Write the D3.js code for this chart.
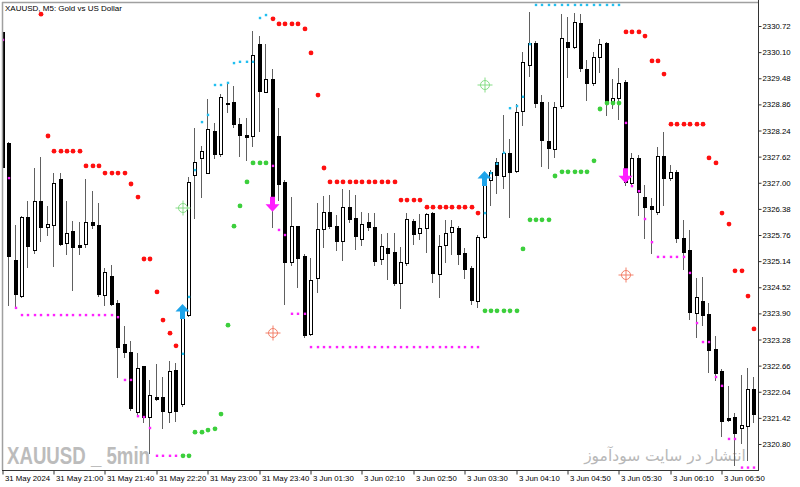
<!DOCTYPE html>
<html><head><meta charset="utf-8">
<script src="https://cdn.jsdelivr.net/npm/d3@7"></script>
<style>body{margin:0;background:#fff}svg{display:block}</style>
</head><body>
<svg id="c" width="800" height="487"></svg>
<script>
// ---- DATA ----
const open = [
2330.58,2327.94,2325.17,2324.31,2326.19,2325.40,2326.57,2325.95,2326.00,2327.09,
2325.57,2325.85,2325.52,2325.55,2326.07,2326.00,2324.34,2324.79,2324.15,2323.17,
2322.98,2321.56,2322.65,2321.44,2321.92,2321.92,2321.56,2322.56,2321.75,2323.86,
2327.18,2327.59,2327.23,2328.23,2327.68,2328.89,2328.92,2328.39,2328.13,2328.11,
2330.29,2329.15,2329.46,2328.11,2327.02,2325.12,2325.97,2325.26,2323.41,2324.74,
2325.90,2326.31,2325.97,2325.62,2326.42,2326.16,2325.67,2326.07,2325.95,2325.19,
2325.45,2325.36,2324.62,2325.10,2326.09,2325.81,2325.93,2326.28,2324.83,2325.52,
2325.83,2325.93,2325.33,2324.98,2324.19,2325.71,2327.07,2327.49,2327.16,2327.71,
2327.28,2328.70,2329.79,2330.32,2328.92,2327.99,2327.80,2328.82,2330.34,2330.22,
2330.79,2329.70,2329.37,2329.98,2330.32,2328.89,2329.01,2329.39,2326.99,2327.59,
2326.66,2326.45,2326.31,2327.63,2327.11,2327.26,2325.69,2325.40,2323.91,2324.19,
2323.89,2323.05,2322.53,2321.42,2321.44,2321.18,2321.23,2322.11];
const high = [
2330.63,2327.97,2326.00,2326.21,2326.57,2327.35,2327.61,2326.45,2327.23,2327.23,
2326.57,2326.09,2326.07,2327.09,2326.80,2326.52,2324.98,2325.05,2324.22,2323.60,
2323.24,2322.96,2322.65,2322.32,2322.70,2322.39,2322.77,2322.72,2323.84,2327.14,
2328.30,2327.87,2328.99,2328.42,2329.11,2329.37,2329.30,2328.54,2328.54,2330.60,
2330.48,2330.29,2329.70,2328.77,2327.07,2326.66,2325.97,2325.31,2325.21,2326.52,
2326.69,2326.71,2326.23,2326.85,2326.83,2326.71,2326.31,2326.28,2326.28,2325.78,
2325.81,2325.81,2325.48,2326.28,2326.14,2326.26,2326.28,2326.31,2325.76,2326.12,
2326.12,2325.97,2325.45,2325.02,2325.76,2327.26,2327.30,2327.59,2328.61,2328.04,
2328.87,2330.10,2331.05,2330.36,2329.08,2328.92,2328.92,2331.00,2330.93,2331.03,
2331.00,2329.91,2330.10,2330.41,2330.34,2329.46,2329.72,2329.44,2327.71,2327.66,
2326.95,2326.64,2327.85,2328.20,2327.42,2327.30,2326.12,2325.88,2324.74,2324.76,
2324.15,2323.36,2322.58,2322.18,2321.54,2322.44,2322.60,2322.39];
const low = [
2327.30,2324.10,2324.05,2324.29,2325.00,2325.33,2325.62,2325.76,2325.02,2325.52,
2325.31,2324.45,2325.31,2325.48,2325.93,2324.31,2324.10,2324.10,2322.39,2322.87,
2321.61,2321.51,2321.32,2320.59,2321.84,2321.18,2321.32,2321.35,2321.70,2323.84,
2326.16,2326.66,2327.23,2327.59,2327.63,2328.68,2328.32,2327.63,2327.54,2327.87,
2328.23,2329.15,2325.95,2326.59,2324.12,2325.05,2324.53,2323.34,2323.39,2324.41,
2325.48,2325.93,2325.40,2325.17,2326.07,2325.43,2325.52,2325.88,2325.05,2325.07,
2324.72,2324.57,2324.03,2325.05,2325.55,2325.67,2325.36,2324.65,2324.29,2325.12,
2325.31,2325.07,2324.74,2324.12,2324.05,2325.69,2326.47,2326.76,2326.88,2326.19,
2327.26,2328.37,2329.53,2328.80,2327.40,2327.35,2327.61,2328.77,2329.51,2330.20,
2329.65,2328.96,2329.32,2329.63,2328.61,2328.77,2328.51,2326.95,2326.95,2326.23,
2325.69,2325.33,2326.26,2326.47,2327.07,2325.59,2324.95,2323.77,2323.34,2323.62,
2322.51,2322.32,2320.99,2321.35,2320.30,2320.82,2320.42,2321.32];
const close = [
2327.37,2325.26,2324.36,2326.19,2325.50,2326.57,2325.95,2326.02,2326.99,2325.55,
2325.81,2325.48,2325.48,2326.07,2326.00,2324.36,2324.88,2324.12,2323.10,2322.98,
2321.65,2322.60,2321.44,2321.96,2321.87,2321.58,2322.53,2321.58,2323.79,2327.02,
2327.49,2327.75,2328.28,2327.68,2329.04,2328.87,2328.39,2328.13,2328.09,2330.03,
2329.18,2329.46,2326.66,2326.97,2325.12,2325.97,2325.21,2323.39,2324.69,2325.90,
2326.31,2325.97,2325.62,2326.42,2326.14,2325.74,2326.02,2325.95,2325.14,2325.50,
2325.33,2324.62,2325.12,2326.14,2325.78,2325.93,2326.26,2324.86,2325.50,2325.81,
2325.95,2325.31,2324.95,2324.22,2325.71,2327.04,2327.26,2327.18,2327.71,2327.26,
2328.68,2329.87,2330.32,2328.89,2328.01,2327.82,2328.80,2330.44,2330.22,2330.81,
2329.72,2329.37,2329.98,2330.29,2328.92,2329.01,2329.37,2327.02,2327.59,2326.78,
2326.42,2326.38,2327.63,2327.11,2327.26,2325.69,2325.36,2323.93,2324.29,2323.86,
2323.03,2322.49,2321.35,2321.37,2321.06,2321.25,2322.11,2321.51];

// indicator dots: [bar index, price]
const redDots = [
[6,2331.00],[7,2328.11],[8,2327.75],[9,2327.75],[10,2327.75],[11,2327.75],[12,2327.75],
[13,2327.40],[14,2327.40],[15,2327.40],[16,2327.23],[17,2327.23],[18,2327.23],[19,2327.23],
[20,2326.97],[21,2326.66],[22,2325.19],[23,2325.19],[24,2324.41],[25,2323.74],[26,2323.43],[27,2323.13],
[42,2330.89],[43,2330.77],[44,2330.77],[45,2330.77],[46,2330.77],[47,2330.65],[48,2330.08],[49,2329.08],
[50,2327.35],[51,2327.02],[52,2327.02],[53,2327.02],[54,2327.02],[55,2327.02],[56,2327.02],[57,2327.02],
[58,2327.02],[59,2327.02],[60,2327.02],[61,2327.02],[62,2326.59],[63,2326.59],[64,2326.59],[65,2326.59],
[66,2326.42],[67,2326.42],[68,2326.42],[69,2326.42],[70,2326.42],[71,2326.42],[72,2326.42],[73,2326.42],
[74,2326.28],[97,2330.58],[98,2330.58],[99,2330.58],[100,2330.48],[101,2329.89],[102,2329.89],[103,2329.58],
[104,2328.39],[105,2328.39],[106,2328.39],[107,2328.39],[108,2328.39],[109,2328.39],[110,2327.59],
[111,2327.47],[112,2326.28],[113,2326.02],[114,2324.91],[115,2324.91],[116,2324.31],[117,2323.53]];
const blueDots = [
[28,2322.94],[29,2324.29],[30,2327.30],[31,2328.44],[32,2328.61],[33,2329.32],[34,2329.32],[35,2329.37],
[36,2329.84],[37,2329.87],[38,2329.87],[39,2329.87],[40,2330.91],[41,2330.98],
[75,2326.28],[76,2327.23],[77,2327.45],[78,2327.71],[79,2328.77],[80,2328.82],[81,2329.04],[82,2330.29],
[83,2331.22],[84,2331.22],[85,2331.22],[86,2331.22],[87,2331.22],[88,2331.22],[89,2331.22],[90,2331.22],
[91,2331.22],[92,2331.22],[93,2331.22],[94,2331.22],[95,2331.22],[96,2331.22]];
const greenDots = [
[28,2320.52],[29,2320.52],[30,2321.08],[31,2321.08],[32,2321.13],[33,2321.16],[34,2321.51],[35,2323.62],
[36,2325.97],[37,2326.45],[38,2327.02],[39,2327.47],[40,2327.47],[41,2327.47],
[75,2323.96],[76,2323.96],[77,2323.96],[78,2323.96],[79,2323.96],[80,2323.96],[81,2325.43],
[82,2326.12],[83,2326.12],[84,2326.12],[85,2326.12],[86,2327.16],[87,2327.26],[88,2327.26],[89,2327.26],
[90,2327.26],[91,2327.26],[92,2327.52],[93,2328.75],[94,2328.89],[95,2328.89],[96,2328.89]];
const magentaDots = [
[0,2330.39],[1,2327.11],[2,2324.03],[3,2323.86],[4,2323.86],[5,2323.86],[6,2323.86],[7,2323.86],
[8,2323.86],[9,2323.86],[10,2323.86],[11,2323.86],[12,2323.86],[13,2323.86],[14,2323.86],[15,2323.86],
[16,2323.86],[17,2323.86],[18,2323.81],[19,2322.32],[20,2322.32],[21,2321.46],[22,2321.44],[23,2321.18],
[24,2320.52],[25,2320.52],[26,2320.52],[27,2320.52],
[42,2327.40],[43,2325.88],[44,2325.76],[45,2323.89],[46,2323.89],[47,2323.89],
[48,2323.10],[49,2323.10],[50,2323.10],[51,2323.10],[52,2323.10],[53,2323.10],[54,2323.10],[55,2323.10],
[56,2323.10],[57,2323.10],[58,2323.10],[59,2323.10],[60,2323.10],[61,2323.10],[62,2323.10],[63,2323.10],
[64,2323.10],[65,2323.10],[66,2323.10],[67,2323.10],[68,2323.10],[69,2323.10],[70,2323.10],[71,2323.10],
[72,2323.10],[73,2323.10],[74,2323.10],
[97,2328.42],[98,2326.92],[99,2326.80],[100,2326.14],[101,2325.59],[102,2325.24],[103,2325.24],[104,2325.24],
[105,2325.24],[106,2325.24],[107,2324.86],[108,2323.67],[109,2323.22],[110,2323.22],[111,2322.39],[112,2322.18],
[113,2320.92],[114,2320.92],[115,2320.24],[116,2320.24],[117,2320.24]];
const upArrows = [[28,2324.12],[75,2327.28]];       // tip price
const downArrows = [[42,2326.31],[97,2326.99]];     // tip price
const greenTargets = [[28,2326.40],[75,2329.32]];
const redTargets = [[42,2323.43],[97,2324.81]];

const priceTicks = [2330.72,2330.10,2329.48,2328.86,2328.24,2327.62,2327.00,2326.38,2325.76,
                    2325.14,2324.52,2323.90,2323.28,2322.66,2322.04,2321.42,2320.80];
const timeTickBars = [0,8,16,24,32,40,48,56,64,72,80,88,96,104,112];
const timeLabels = ["31 May 2024","31 May 21:00","31 May 21:40","31 May 22:20","31 May 23:00",
  "31 May 23:40","3 Jun 01:30","3 Jun 02:10","3 Jun 02:50","3 Jun 03:30","3 Jun 04:10",
  "3 Jun 04:50","3 Jun 05:30","3 Jun 06:10","3 Jun 06:50"];
const title = "XAUUSD, M5:  Gold vs US Dollar";
const watermark1 = "XAUUSD _ 5min";
const watermark2 = "انتشار در سایت سودآموز";

// ---- CHART ----
const W = 800, H = 487;
const P = {left: 2, right: 758, top: 2, bottom: 470};
const FONT = "'Liberation Sans', Arial, sans-serif";
const svg = d3.select('#c');
svg.append('rect').attr('width', W).attr('height', H).attr('fill', '#fff');

const x = d3.scaleLinear().domain([0, 117]).range([2.7, 754.4]);
const y = d3.scaleLinear().domain([2320.80, 2330.72]).range([444, 26]);
const px = i => Math.round(x(i));

svg.append('clipPath').attr('id', 'clip').append('rect')
  .attr('x', P.left + 1).attr('y', P.top + 1)
  .attr('width', P.right - P.left - 1).attr('height', P.bottom - P.top - 1);

// watermarks (behind)
svg.append('text').attr('x', 7).attr('y', 464).text(watermark1)
  .attr('font-family', FONT).attr('font-weight', 'bold').attr('font-size', 24)
  .attr('textLength', 143).attr('lengthAdjust', 'spacingAndGlyphs')
  .attr('fill', '#bcbcbc');
svg.append('text').attr('x', 665).attr('y', 461).text(watermark2)
  .attr('font-family', "'DejaVu Sans', sans-serif").attr('font-size', 15.5)
  .attr('text-anchor', 'middle').attr('fill', '#b8b8b8');

const g = svg.append('g').attr('clip-path', 'url(#clip)');
const bars = open.map((o, i) => ({i, o, h: high[i], l: low[i], c: close[i]}));

// wicks
g.selectAll('line.wick').data(bars).join('line').attr('class', 'wick')
  .attr('x1', d => px(d.i) - 0.5).attr('x2', d => px(d.i) - 0.5)
  .attr('y1', d => Math.round(y(d.h))).attr('y2', d => Math.round(y(d.l)) + 1)
  .attr('stroke', '#606060').attr('stroke-width', 1);

// bodies
g.selectAll('rect.body').data(bars).join('rect').attr('class', 'body')
  .attr('x', d => px(d.i) - 1.5).attr('width', 3)
  .attr('y', d => Math.round(y(Math.max(d.o, d.c))) + 0.5)
  .attr('height', d => Math.max(1, Math.round(y(Math.min(d.o, d.c))) - Math.round(y(Math.max(d.o, d.c)))))
  .attr('fill', d => d.c >= d.o ? '#fff' : '#000')
  .attr('stroke', '#000').attr('stroke-width', 1);

// targets
function targets(data, color) {
  const t = g.selectAll(null).data(data).join('g')
    .attr('transform', d => `translate(${px(d[0])},${Math.round(y(d[1]))})`)
    .attr('fill', 'none').attr('stroke', color).attr('stroke-width', 1);
  t.append('circle').attr('r', 4.5);
  t.append('line').attr('x1', -7.5).attr('x2', 7.5);
  t.append('line').attr('y1', -7.5).attr('y2', 7.5);
}
targets(greenTargets, '#86dd86');
targets(redTargets, '#f3806a');

// dots
g.selectAll(null).data(redDots).join('circle')
  .attr('cx', d => px(d[0])).attr('cy', d => y(d[1])).attr('r', 2.4).attr('fill', '#ff1010');
g.selectAll(null).data(greenDots).join('circle')
  .attr('cx', d => px(d[0])).attr('cy', d => y(d[1])).attr('r', 2.4).attr('fill', '#3ccf3c');
g.selectAll(null).data(blueDots).join('rect')
  .attr('x', d => px(d[0]) - 1.2).attr('y', d => y(d[1]) - 1.2).attr('width', 2.4).attr('height', 2.4)
  .attr('fill', '#22bff0');
g.selectAll(null).data(magentaDots).join('rect')
  .attr('x', d => px(d[0]) - 1.2).attr('y', d => y(d[1]) - 1.2).attr('width', 2.4).attr('height', 2.4)
  .attr('fill', '#ff22ff');

// arrows
const upPath = 'M0,0 L7,7.5 L2.5,7.5 L2.5,15 L-2.5,15 L-2.5,7.5 L-7,7.5 Z';
g.selectAll(null).data(upArrows).join('path')
  .attr('d', upPath).attr('transform', d => `translate(${px(d[0]) - 0.5},${y(d[1])})`)
  .attr('fill', '#1ea4ea');
g.selectAll(null).data(downArrows).join('path')
  .attr('d', upPath).attr('transform', d => `translate(${px(d[0]) - 0.5},${y(d[1])}) scale(1,-1)`)
  .attr('fill', '#ff1cff');

// frame
svg.append('line').attr('x1', P.left).attr('x2', P.right).attr('y1', P.top + 0.5).attr('y2', P.top + 0.5)
  .attr('stroke', '#a0a0a0').attr('stroke-width', 1.5);
svg.append('line').attr('x1', P.left + 0.5).attr('x2', P.left + 0.5).attr('y1', P.top).attr('y2', P.bottom)
  .attr('stroke', '#a0a0a0').attr('stroke-width', 1.5);
svg.append('line').attr('x1', P.right + 0.5).attr('x2', P.right + 0.5).attr('y1', 0).attr('y2', P.bottom + 1)
  .attr('stroke', '#333');
svg.append('line').attr('x1', P.left).attr('x2', P.right + 1).attr('y1', P.bottom + 0.5).attr('y2', P.bottom + 0.5)
  .attr('stroke', '#333');

// y axis
const yAxis = d3.axisRight(y).tickValues(priceTicks).tickSize(3).tickPadding(1)
  .tickFormat(d3.format('.2f'));
const ya = svg.append('g').attr('transform', `translate(${P.right + 0.5},0)`).call(yAxis);
ya.select('.domain').remove();
ya.selectAll('line').attr('stroke', '#333');
ya.selectAll('text').attr('font-family', FONT).attr('font-size', 7.8).attr('fill', '#000');

// x axis
const xAxis = d3.axisBottom(x).tickValues(timeTickBars).tickSize(4).tickPadding(0)
  .tickFormat((d, i) => timeLabels[i]);
const xa = svg.append('g').attr('transform', `translate(0.5,${P.bottom + 0.5})`).call(xAxis);
xa.select('.domain').remove();
xa.selectAll('.tick').attr('transform', d => `translate(${px(d) - 0.5},0)`);
xa.selectAll('line').attr('stroke', '#333');
xa.selectAll('text').attr('font-family', FONT).attr('font-size', 7.8).attr('fill', '#000')
  .attr('text-anchor', 'start').attr('x', 2).attr('y', 5).attr('dy', '0.71em');

// title
svg.append('text').attr('x', 5).attr('y', 11).text(title)
  .attr('font-family', FONT).attr('font-size', 8).attr('fill', '#000');
</script>
</body></html>
